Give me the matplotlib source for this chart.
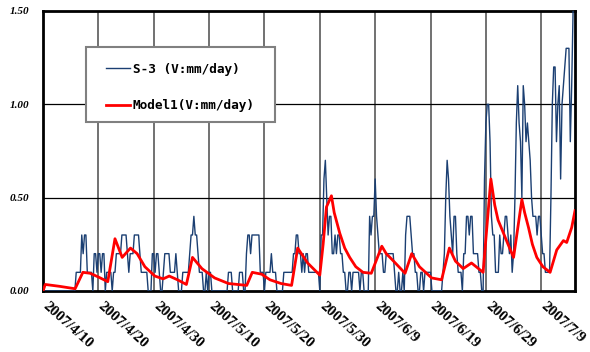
"""
S-3 observado vs Model1 (V:mm/day), 2007/4/10 - 2007/7/15.
"""

import numpy as np
import pandas as pd
import matplotlib

matplotlib.use("Agg")
import matplotlib.pyplot as plt
import matplotlib.transforms as mtransforms
from matplotlib.patches import Rectangle

# Fecha de inicio del registro.
INICIO = "2007-04-10"

# S-3: valores en décimas de mm/day, 4 lecturas por día (cada 6 h), un renglón por día.
S3_DECIMAS = [
    [0, 0, 0, 0], [0, 0, 0, 0], [0, 0, 0, 0], [0, 0, 0, 0],  # d0-3
    [0, 0, 0, 0], [0, 0, 0, 0], [1, 1, 1, 1], [3, 2, 3, 3],  # d4-7
    [1, 1, 1, 1], [0, 2, 2, 1], [2, 2, 1, 2], [2, 0, 1, 1],  # d8-11
    [1, 1, 0, 1], [1, 2, 2, 2], [2, 3, 3, 3], [3, 2, 1, 2],  # d12-15
    [2, 2, 3, 3], [3, 3, 2, 1], [1, 1, 1, 1], [0, 0, 0, 2],  # d16-19
    [2, 1, 2, 2], [1, 0, 0, 1], [2, 2, 2, 2], [1, 1, 1, 1],  # d20-23
    [2, 1, 0, 0], [0, 1, 1, 1], [1, 1, 2, 3], [3, 4, 3, 3],  # d24-27
    [2, 1, 1, 1], [0, 0, 1, 0], [1, 1, 0, 0], [0, 0, 0, 0],  # d28-31
    [0, 0, 0, 0], [0, 0, 1, 1], [1, 0, 0, 0], [0, 0, 1, 1],  # d32-35
    [1, 0, 0, 2], [3, 3, 2, 3], [3, 3, 3, 3], [3, 1, 1, 1],  # d36-39
    [0, 1, 1, 1], [1, 2, 1, 1], [1, 0, 0, 0], [0, 0, 1, 1],  # d40-43
    [1, 1, 1, 1], [1, 2, 2, 3], [3, 2, 2, 1], [2, 1, 2, 2],  # d44-47
    [1, 1, 1, 1], [1, 1, 1, 1], [0, 3, 3, 6], [7, 5, 3, 4],  # d48-51
    [4, 2, 2, 3], [2, 3, 3, 2], [2, 1, 1, 0], [0, 1, 1, 0],  # d52-55
    [1, 1, 1, 1], [1, 0, 1, 1], [0, 0, 0, 0], [4, 3, 4, 4],  # d56-59
    [6, 4, 3, 2], [2, 2, 1, 1], [2, 2, 2, 2], [2, 2, 1, 0],  # d60-63
    [0, 1, 0, 0], [1, 0, 3, 4], [4, 4, 3, 2], [2, 1, 1, 0],  # d64-67
    [0, 1, 1, 0], [1, 1, 1, 1], [1, 0, 0, 0], [0, 0, 0, 0],  # d68-71
    [0, 1, 2, 5], [7, 6, 4, 3], [2, 4, 4, 2], [1, 1, 1, 0],  # d72-75
    [2, 2, 4, 4], [3, 4, 4, 2], [2, 2, 2, 1], [1, 0, 0, 6],  # d76-79
    [9, 10, 10, 8], [4, 3, 3, 1], [1, 1, 3, 2], [2, 3, 4, 4],  # d80-83
    [3, 2, 3, 1], [2, 5, 9, 11], [9, 8, 5, 11], [10, 8, 9, 8],  # d84-87
    [7, 5, 4, 4], [4, 3, 4, 4], [3, 2, 2, 1], [1, 1, 1, 5],  # d88-91
    [10, 12, 12, 8], [10, 11, 6, 10], [11, 12, 13, 13], [13, 8, 11, 15],  # d92-95
]

# Model1: puntos (día desde el inicio, mm/day).
MODELO_DIAS = [
    0.0, 0.4, 3.0, 5.8, 7.2, 8.5, 10.0, 11.7, 13.0, 14.3, 15.8, 17.0,
    18.4, 20.2, 21.7, 22.8, 24.3, 25.9, 27.0, 28.7, 31.0, 33.5, 36.8,
    37.8, 39.5, 41.0, 43.0, 44.9, 46.0, 47.8, 50.0, 50.6, 51.2, 52.1,
    52.6, 53.6, 54.5, 55.4, 56.5, 57.8, 59.3, 61.2, 62.0, 63.0, 65.4,
    66.6, 68.0, 70.2, 72.0, 73.4, 74.5, 75.9, 77.4, 79.5, 80.9, 81.3,
    81.6, 82.2, 82.9, 84.0, 85.0, 86.5, 87.0, 87.7, 88.4, 89.2, 90.3,
    91.6, 92.8, 94.0, 94.6, 95.5, 96.1,
]
MODELO_VALORES = [
    0.0, 0.035, 0.025, 0.012, 0.10, 0.095, 0.075, 0.05, 0.28, 0.18, 0.23, 0.20,
    0.13, 0.08, 0.065, 0.08, 0.06, 0.035, 0.18, 0.12, 0.07, 0.04, 0.03,
    0.10, 0.09, 0.06, 0.04, 0.03, 0.23, 0.15, 0.085, 0.25, 0.45, 0.51,
    0.42, 0.31, 0.23, 0.18, 0.13, 0.10, 0.095, 0.24, 0.20, 0.17, 0.095,
    0.20, 0.13, 0.07, 0.06, 0.23, 0.16, 0.12, 0.15, 0.10, 0.60, 0.52,
    0.46, 0.38, 0.33, 0.25, 0.18, 0.49, 0.42, 0.34, 0.25, 0.18, 0.13,
    0.10, 0.22, 0.27, 0.26, 0.34, 0.43,
]

ETIQUETAS_X = [
    "2007/4/10", "2007/4/20", "2007/4/30", "2007/5/10", "2007/5/20",
    "2007/5/30", "2007/6/9", "2007/6/19", "2007/6/29", "2007/7/9",
]
ETIQUETAS_Y = ["0.00", "0.50", "1.00", "1.50"]


def main():
    inicio = pd.Timestamp(INICIO)

    s3 = np.array(S3_DECIMAS, dtype=float).ravel() / 10.0
    t_s3 = pd.date_range(inicio, periods=len(s3), freq="6h")

    t_modelo = inicio + pd.to_timedelta(MODELO_DIAS, unit="D")

    fig = plt.figure(figsize=(5.9, 3.52), dpi=100)
    ax = fig.add_axes([0.0729, 0.1733, 0.9017, 0.7955])

    ax.plot(t_s3, s3, color="#1b3f72", linewidth=1.0,
            label="S-3 (V:mm/day)", zorder=3)
    ax.plot(t_modelo, MODELO_VALORES, color="#ff0000", linewidth=2.0,
            label="Model1(V:mm/day)", zorder=4)

    # Ejes y rejilla.
    ax.set_xlim(inicio, inicio + pd.Timedelta(days=96.1))
    ax.set_ylim(0, 1.5)

    fechas = [pd.to_datetime(e, format="%Y/%m/%d") for e in ETIQUETAS_X]
    ax.set_xticks(fechas)
    ax.set_xticklabels(ETIQUETAS_X)
    ax.set_yticks([float(e) for e in ETIQUETAS_Y])
    ax.set_yticklabels(ETIQUETAS_Y)

    for f in fechas[1:]:
        ax.axvline(f, color="#4a4a4a", linewidth=1.1, zorder=1)
    for v in (0.5, 1.0):
        ax.axhline(v, color="black", linewidth=0.9, zorder=1)

    ax.tick_params(axis="both", length=0)
    ax.tick_params(axis="y", pad=10)
    ax.tick_params(axis="x", pad=6)

    for lbl in ax.get_yticklabels():
        lbl.set_fontfamily("Liberation Serif")
        lbl.set_fontweight("bold")
        lbl.set_fontstyle("italic")
        lbl.set_fontsize(8)

    desplazamiento = mtransforms.ScaledTranslation(6 / 100, 0, fig.dpi_scale_trans)
    for lbl in ax.get_xticklabels():
        lbl.set_fontfamily("Liberation Serif")
        lbl.set_fontweight("bold")
        lbl.set_fontsize(11)
        lbl.set_rotation(-42)
        lbl.set_rotation_mode("anchor")
        lbl.set_ha("left")
        lbl.set_va("top")
        lbl.set_transform(lbl.get_transform() + desplazamiento)

    for spine in ax.spines.values():
        spine.set_linewidth(2)
        spine.set_color("black")

    # Marco de la leyenda dibujado aparte para fijar su tamaño.
    marco = Rectangle(
        (0.0808, 0.6036), 0.3553, 0.2679,
        transform=ax.transAxes,
        facecolor="white",
        edgecolor="#808080",
        linewidth=1.5,
        zorder=5,
    )
    ax.add_patch(marco)

    leyenda = ax.legend(
        loc="upper left",
        bbox_to_anchor=(0.118, 0.815),
        prop={"family": "DejaVu Sans Mono", "weight": "bold", "size": 9.2},
        frameon=False,
        borderpad=0,
        borderaxespad=0,
        labelspacing=1.85,
        handlelength=1.9,
        handletextpad=0.2,
    )
    leyenda.set_zorder(10)

    fig.savefig("out.png", dpi=100)


if __name__ == "__main__":
    main()
